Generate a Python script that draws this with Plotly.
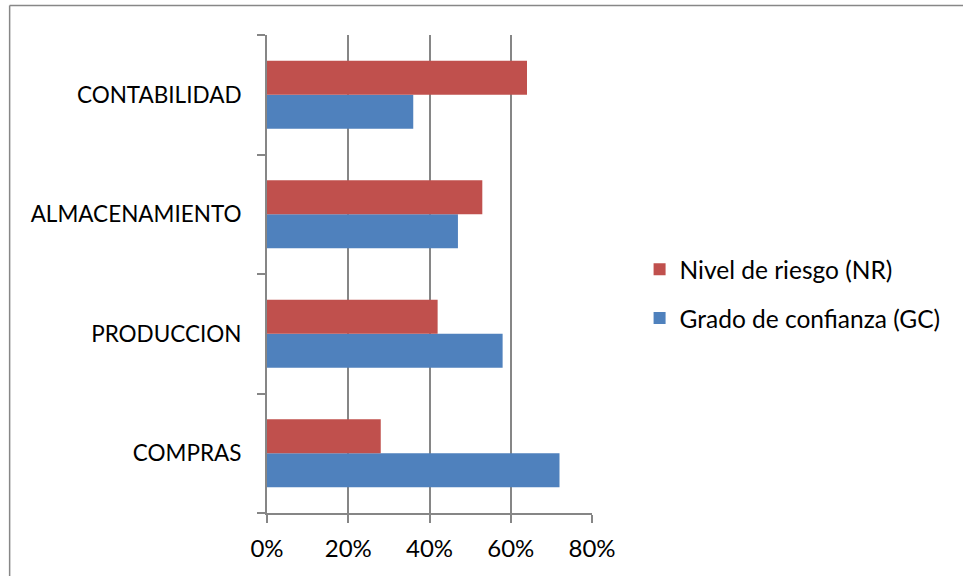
import plotly.graph_objects as go

categories = ["COMPRAS", "PRODUCCION", "ALMACENAMIENTO", "CONTABILIDAD"]
gc_values = [0.72, 0.58, 0.47, 0.36]
nr_values = [0.28, 0.42, 0.53, 0.64]
x_ticks = [0, 0.2, 0.4, 0.6, 0.8]

FONT = "Lato"
W, H = 963, 576
L, R, T, B = 266.5, 592.3, 35.0, 513.3

fig = go.Figure()
fig.add_trace(go.Bar(y=categories, x=gc_values, orientation="h",
                     name="Grado de confianza (GC)", marker_color="#4F81BD",
                     marker_line_width=0, legendgroup="gc", legendrank=2))
fig.add_trace(go.Bar(y=categories, x=nr_values, orientation="h",
                     name="Nivel de riesgo (NR)", marker_color="#C0504D",
                     marker_line_width=0, legendgroup="nr", legendrank=1))

pw, ph = R - L, B - T
def px(x):
    return (x - L) / pw
def py(y):
    return (B - y) / ph

border = dict(color="#878787", width=1.5)
fig.update_layout(
    width=W, height=H,
    margin=dict(l=L, r=W - R, t=T, b=H - B, pad=0),
    paper_bgcolor="white", plot_bgcolor="white",
    font=dict(family=FONT, size=24, color="#000000"),
    barmode="group", bargap=0.433, bargroupgap=0,
    showlegend=True,
    legend=dict(x=px(640), y=py(294), xanchor="left", yanchor="middle",
                traceorder="grouped", tracegroupgap=14,
                font=dict(family=FONT, size=24.5), bgcolor="rgba(0,0,0,0)"),
    xaxis=dict(range=[0, 0.8], tickvals=x_ticks, tickformat=".0%",
               showgrid=True, gridcolor="#868686", gridwidth=2,
               showline=True, linecolor="#868686", linewidth=2,
               ticks="outside", ticklen=8, tickcolor="#868686", tickwidth=2,
               ticklabelstandoff=5, zeroline=False, fixedrange=True),
    yaxis=dict(showgrid=False, showline=True, linecolor="#868686", linewidth=2,
               ticks="outside", tickson="boundaries", ticklen=8,
               tickcolor="#868686", tickwidth=2, ticklabelstandoff=19,
               tickfont=dict(family=FONT, size=22.5)),
    shapes=[
        dict(type="line", xref="paper", yref="paper",
             x0=px(8.5), x1=px(W + 20), y0=py(5.5), y1=py(5.5), line=border),
        dict(type="line", xref="paper", yref="paper",
             x0=px(8.5), x1=px(8.5), y0=py(5.5), y1=py(H + 20), line=border),
    ],
)

fig.write_html("out.html")
